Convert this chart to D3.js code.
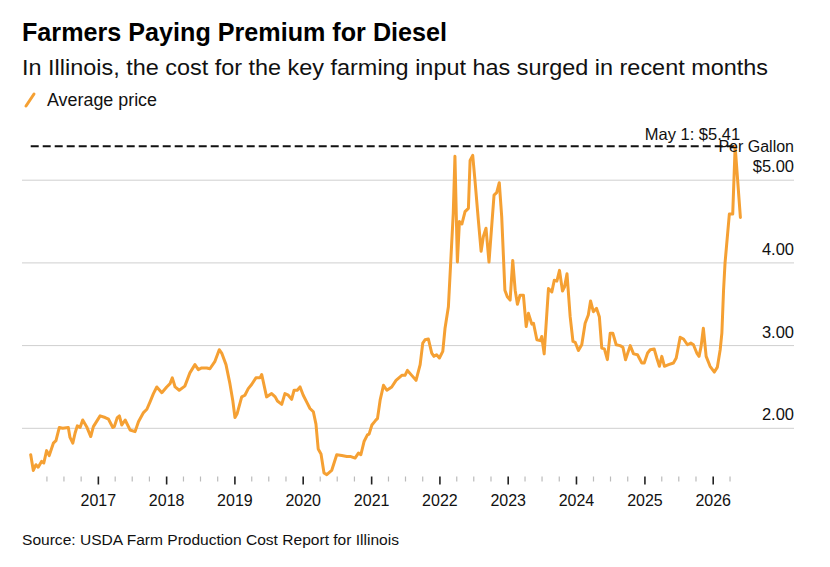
<!DOCTYPE html>
<html>
<head>
<meta charset="utf-8">
<script src="https://cdn.jsdelivr.net/npm/d3@7"></script>
<style>
  html, body { margin: 0; padding: 0; background: #fff; }
  svg { display: block; font-family: "Liberation Sans", Arial, Helvetica, sans-serif; }
</style>
</head>
<body>
<svg id="chart" width="830" height="567"></svg>
<script>
// ---- Data ----
const dates = [
"2016-01-08","2016-01-22","2016-02-05","2016-02-17","2016-03-06","2016-03-18","2016-04-02","2016-04-16","2016-05-08","2016-05-22",
"2016-06-09","2016-06-27","2016-07-27","2016-08-05","2016-08-20","2016-09-01","2016-09-13","2016-09-28","2016-10-12","2016-11-02",
"2016-11-24","2016-12-08",
"2017-01-13","2017-02-09","2017-02-27","2017-03-22","2017-03-30","2017-04-15","2017-04-26","2017-05-09","2017-05-27","2017-06-22",
"2017-07-19","2017-08-06","2017-09-02","2017-09-20","2017-10-07","2017-10-25","2017-11-12","2017-12-09",
"2018-01-04","2018-01-22","2018-02-03","2018-02-18","2018-03-12","2018-04-11","2018-05-08","2018-06-04","2018-06-22","2018-07-10",
"2018-08-06","2018-08-23","2018-09-19","2018-10-12","2018-10-25","2018-11-17","2018-12-08","2018-12-23",
"2019-01-04","2019-01-16","2019-02-09","2019-02-26","2019-03-16","2019-04-03","2019-04-26","2019-05-18","2019-05-27","2019-06-22",
"2019-07-19","2019-08-07","2019-08-19","2019-09-11","2019-09-28","2019-10-16","2019-11-03","2019-11-16","2019-12-03","2019-12-18",
"2020-01-04","2020-01-22","2020-02-09","2020-02-27","2020-03-12","2020-03-24","2020-04-08","2020-04-24","2020-05-09","2020-06-04",
"2020-07-01","2020-07-28","2020-08-24","2020-09-11","2020-10-07","2020-10-25","2020-11-07","2020-11-24","2020-12-12","2020-12-21",
"2021-01-05","2021-01-23","2021-02-04","2021-02-18","2021-03-08","2021-03-26","2021-04-21","2021-05-14","2021-06-14","2021-07-01",
"2021-07-14","2021-08-06","2021-08-29","2021-09-20","2021-10-04","2021-10-16","2021-11-03","2021-11-21","2021-12-03","2021-12-17",
"2022-01-01","2022-01-19","2022-01-31","2022-02-18","2022-03-16","2022-03-25","2022-04-07","2022-04-18","2022-05-01","2022-05-18",
"2022-06-05","2022-06-14","2022-06-28","2022-07-10","2022-07-28","2022-08-12","2022-08-24","2022-09-07","2022-09-23","2022-10-08",
"2022-10-20","2022-11-03","2022-11-17","2022-11-30","2022-12-17","2022-12-30",
"2023-01-14","2023-01-28","2023-02-10","2023-02-22","2023-03-08","2023-03-26","2023-04-10","2023-04-22","2023-05-10","2023-05-19",
"2023-06-06","2023-06-24","2023-07-02","2023-07-15","2023-08-07","2023-08-25","2023-09-07","2023-09-21","2023-10-05","2023-10-21",
"2023-11-01","2023-11-14","2023-12-01","2023-12-16","2023-12-28",
"2024-01-14","2024-02-01","2024-02-19","2024-03-07","2024-03-19","2024-04-03","2024-04-20","2024-05-05","2024-05-18","2024-06-01",
"2024-06-17","2024-07-02","2024-07-16","2024-08-03","2024-08-24","2024-09-08","2024-09-22","2024-10-17","2024-11-04","2024-11-25",
"2024-12-18","2024-12-31",
"2025-01-18","2025-02-01","2025-02-22","2025-03-08","2025-03-22","2025-04-04","2025-04-18","2025-05-10","2025-06-05","2025-06-20",
"2025-07-11","2025-07-29","2025-08-19","2025-09-06","2025-09-20","2025-10-08","2025-10-20","2025-10-31","2025-11-12","2025-11-27",
"2025-12-18",
"2026-01-10","2026-01-26","2026-02-10","2026-02-19","2026-02-28","2026-03-08","2026-03-31","2026-04-18","2026-05-01","2026-05-29"
];
const prices = [
1.68,1.49,1.56,1.53,1.60,1.58,1.73,1.67,1.82,1.85,
2.01,2.00,2.01,1.89,1.82,1.94,2.03,2.01,2.10,2.02,
1.90,2.02,
2.15,2.13,2.11,2.01,2.02,2.13,2.15,2.04,2.10,1.98,
1.96,2.08,2.19,2.23,2.32,2.42,2.50,2.43,
2.50,2.54,2.61,2.50,2.46,2.51,2.67,2.77,2.71,2.73,
2.73,2.72,2.81,2.95,2.91,2.77,2.54,2.34,
2.13,2.18,2.38,2.40,2.48,2.53,2.61,2.61,2.65,2.38,
2.42,2.38,2.33,2.29,2.42,2.40,2.35,2.46,2.46,2.50,
2.40,2.32,2.24,2.20,2.05,1.75,1.69,1.46,1.44,1.49,
1.68,1.67,1.66,1.66,1.64,1.70,1.68,1.84,1.92,1.93,
2.04,2.09,2.12,2.34,2.52,2.46,2.50,2.58,2.64,2.64,
2.70,2.64,2.58,2.77,3.03,3.07,3.08,2.91,2.87,2.89,
2.85,2.93,3.21,3.47,4.60,5.29,4.01,4.50,4.47,4.62,
4.66,5.24,5.30,5.00,4.52,4.14,4.32,4.42,4.01,4.46,
4.82,4.85,4.97,4.56,3.67,3.59,
3.55,4.03,3.67,3.50,3.61,3.61,3.23,3.39,3.26,3.27,
3.07,3.06,3.11,2.90,3.69,3.65,3.79,3.78,3.91,3.66,
3.71,3.87,3.35,3.05,3.04,
2.94,3.01,3.27,3.37,3.54,3.41,3.45,3.35,2.97,2.96,
2.83,3.15,3.15,3.01,3.00,2.98,2.83,3.00,2.90,2.89,
2.79,2.79,
2.91,2.95,2.96,2.85,2.75,2.87,2.75,2.77,2.79,2.85,
3.10,3.08,3.01,3.03,3.01,2.91,2.87,2.99,3.21,2.87,
2.75,
2.68,2.74,2.95,3.15,3.67,4.00,4.59,4.59,5.41,4.55
];
const yTicks = [2, 3, 4, 5];
const yTickLabels = ["2.00", "3.00", "4.00", "$5.00"];
const xYears = ["2017","2018","2019","2020","2021","2022","2023","2024","2025","2026"];
const annotationDate = "2026-05-01";
const annotationValue = 5.41;
const annotationText = "May 1: $5.41";

const title = "Farmers Paying Premium for Diesel";
const subtitle = "In Illinois, the cost for the key farming input has surged in recent months";
const legendLabel = "Average price";
const unitLabel = "Per Gallon";
const source = "Source: USDA Farm Production Cost Report for Illinois";

// ---- Layout ----
const ORANGE = "#f5a033";
const svg = d3.select("#chart");
const parse = d3.timeParse("%Y-%m-%d");
const data = dates.map((d, i) => ({ date: parse(d), value: prices[i] }));

const x = d3.scaleTime()
  .domain([new Date(2016, 0, 1), new Date(2026, 0, 1)])
  .range([29.4, 712.7]);
const y = d3.scaleLinear().domain([2, 5]).range([428.3, 180.2]);

const gridLeft = 22, gridRight = 794;

function fitText(sel, width) {
  const w = sel.node().getComputedTextLength();
  sel.attr("textLength", width).attr("lengthAdjust", "spacingAndGlyphs");
  return w;
}

// Title / subtitle / legend
const tTitle = svg.append("text").attr("x", 22).attr("y", 41)
  .attr("font-size", 25).attr("font-weight", "bold").attr("fill", "#000").text(title);
fitText(tTitle, 425);
const tSub = svg.append("text").attr("x", 22).attr("y", 75)
  .attr("font-size", 22).attr("fill", "#111").text(subtitle);
fitText(tSub, 746);
svg.append("line").attr("x1", 26).attr("y1", 106).attr("x2", 34).attr("y2", 94)
  .attr("stroke", ORANGE).attr("stroke-width", 3).attr("stroke-linecap", "round");
const tLeg = svg.append("text").attr("x", 47).attr("y", 106)
  .attr("font-size", 17.5).attr("fill", "#111").text(legendLabel);
fitText(tLeg, 110);

// Grid + y labels
const gy = svg.append("g");
gy.selectAll("line").data(yTicks).join("line")
  .attr("x1", gridLeft).attr("x2", gridRight)
  .attr("y1", d => y(d)).attr("y2", d => y(d))
  .attr("stroke", "#cfcfcf").attr("stroke-width", 1);
gy.selectAll("text").data(yTicks).join("text")
  .attr("x", gridRight).attr("y", d => y(d) - 8)
  .attr("text-anchor", "end").attr("font-size", 16.5).attr("fill", "#111")
  .text((d, i) => yTickLabels[i]);

// X axis ticks
const majorTicks = xYears.map(yr => new Date(+yr, 0, 1));
const minorTicks = [];
for (let yr = 2016; yr <= 2026; yr++) {
  [3, 6, 9].forEach(m => {
    const d = new Date(yr, m, 1);
    if (d <= new Date(2026, 3, 1)) minorTicks.push(d);
  });
}
const axisY = 476.5;
const minorAxis = d3.axisBottom(x).tickValues(minorTicks).tickSize(5).tickFormat("");
const gMinor = svg.append("g").attr("transform", `translate(0,${axisY})`).call(minorAxis);
gMinor.select(".domain").remove();
gMinor.selectAll(".tick line").attr("stroke", "#bbb").attr("stroke-width", 1.2);

const majorAxis = d3.axisBottom(x).tickValues(majorTicks).tickSize(8).tickPadding(10)
  .tickFormat(d3.timeFormat("%Y"));
const gMajor = svg.append("g").attr("transform", `translate(0,${axisY})`).call(majorAxis);
gMajor.select(".domain").remove();
gMajor.selectAll(".tick line").attr("stroke", "#222").attr("stroke-width", 1.6);
gMajor.selectAll(".tick text").attr("font-size", 16).attr("fill", "#111")
  .attr("font-family", "Liberation Sans, Arial, sans-serif");

// Dashed reference line at the latest peak
const ad = parse(annotationDate);
svg.append("line")
  .attr("x1", x(data[0].date)).attr("x2", x(ad))
  .attr("y1", y(annotationValue)).attr("y2", y(annotationValue))
  .attr("stroke", "#111").attr("stroke-width", 2).attr("stroke-dasharray", "8,4");

// Price line
const line = d3.line().x(d => x(d.date)).y(d => y(d.value)).curve(d3.curveLinear);
svg.append("path").datum(data)
  .attr("fill", "none").attr("stroke", ORANGE).attr("stroke-width", 3)
  .attr("stroke-linejoin", "round").attr("stroke-linecap", "round")
  .attr("d", line);

// Annotation + unit label
svg.append("text").attr("x", x(ad) + 5).attr("y", y(annotationValue) - 6)
  .attr("text-anchor", "end").attr("font-size", 16.5).attr("fill", "#111").text(annotationText);
svg.append("text").attr("x", gridRight).attr("y", y(annotationValue) + 6)
  .attr("text-anchor", "end").attr("font-size", 16).attr("fill", "#111").text(unitLabel);

// Source
const tSrc = svg.append("text").attr("x", 22).attr("y", 545)
  .attr("font-size", 15.5).attr("fill", "#111").text(source);
fitText(tSrc, 377);
</script>
</body>
</html>
